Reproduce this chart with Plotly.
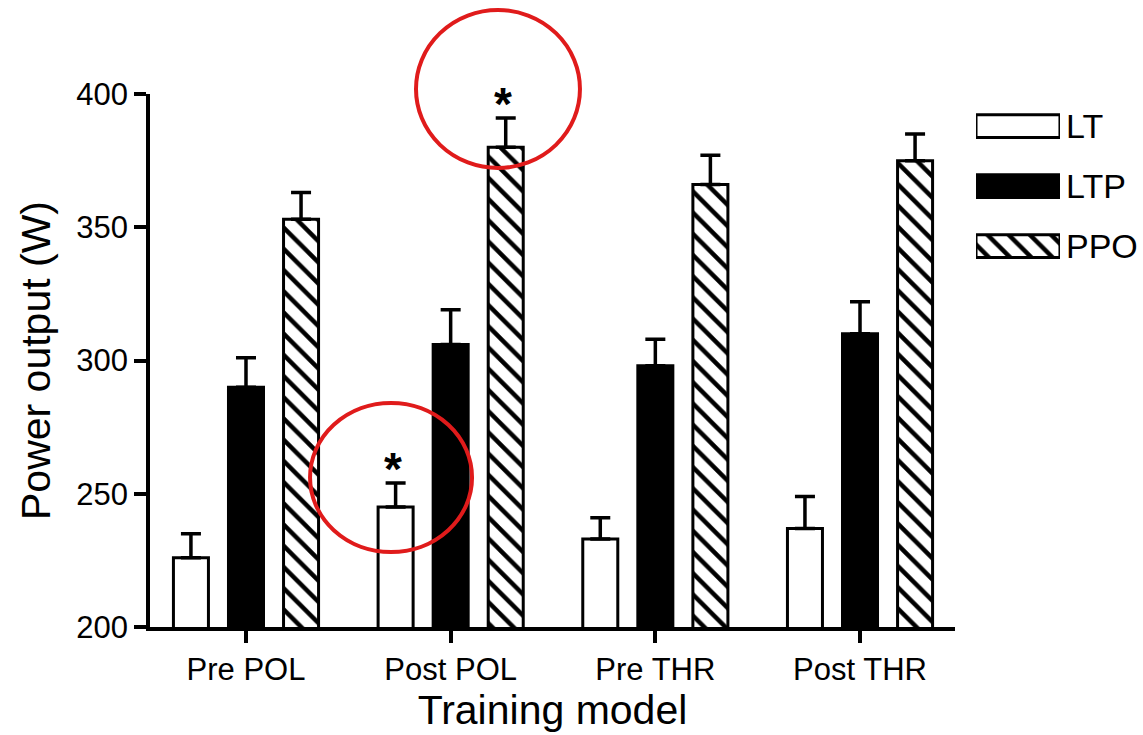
import plotly.graph_objects as go

# Training groups and measured power outputs (W), mean and SD
groups = ["Pre POL", "Post POL", "Pre THR", "Post THR"]
lt = [226, 245, 233, 237]
lt_sd = [9, 9, 8, 12]
ltp = [290, 306, 298, 310]
ltp_sd = [11, 13, 10, 12]
ppo = [353, 380, 366, 375]
ppo_sd = [10, 11, 11, 10]

series_names = ["LT", "LTP", "PPO"]
y_ticks = [200, 250, 300, 350, 400]

FONT = "Liberation Sans, Arial, sans-serif"
BARGAP = 0.193
BARGROUPGAP = 0.364
LINE_W = 3


def err(sd):
    return dict(type="data", array=sd, arrayminus=[0] * len(sd), symmetric=False,
                color="black", thickness=3.5, width=10)


styles = {
    "LT": dict(marker=dict(color="white", line=dict(color="black", width=LINE_W))),
    "LTP": dict(marker=dict(color="black", line=dict(color="black", width=LINE_W))),
    "PPO": dict(marker=dict(color="white", line=dict(color="black", width=LINE_W),
                            pattern=dict(shape="\\", fgcolor="black", bgcolor="white",
                                         size=15, solidity=0.3, fillmode="replace"))),
}

fig = go.Figure()
for name, vals, sd in zip(series_names, [lt, ltp, ppo], [lt_sd, ltp_sd, ppo_sd]):
    fig.add_trace(go.Bar(x=groups, y=vals, name=name, error_y=err(sd),
                         showlegend=False, **styles[name]))

# Legend swatches drawn as bars on their own small axes
legend_rows = [2, 1, 0]
for name, row in zip(series_names, legend_rows):
    fig.add_trace(go.Bar(x=[1], y=[row], base=0, orientation="h", width=0.38,
                         xaxis="x2", yaxis="y2", showlegend=False, hoverinfo="skip",
                         **styles[name]))
    fig.add_annotation(x=0.93, xref="paper", y=row, yref="y2", text=name,
                       xanchor="left", yanchor="middle", showarrow=False,
                       font=dict(family=FONT, size=34, color="black"))

# Significance markers above the error bars
slot = (1 - BARGAP) / 3
stars = [(1, -slot, lt[1] + lt_sd[1]), (1, slot, ppo[1] + ppo_sd[1])]
for gi, off, top in stars:
    fig.add_annotation(x=gi + off, xref="x", xshift=-3, y=top, yref="y", text="<b>*</b>",
                       showarrow=False, yanchor="bottom", yshift=-14,
                       font=dict(family=FONT, size=46, color="black"))

# Red highlight circles
circle_style = dict(type="circle", xref="paper", yref="paper",
                    line=dict(color="#e01b1b", width=4), layer="above")
fig.add_shape(x0=0.2706, x1=0.4374, y0=0.8612, y1=1.1576, **circle_style)
fig.add_shape(x0=0.1628, x1=0.3276, y0=0.1407, y1=0.4203, **circle_style)

fig.update_layout(
    width=1143, height=735,
    margin=dict(l=150, r=10, t=94, b=108),
    paper_bgcolor="white", plot_bgcolor="white",
    barmode="group", bargap=BARGAP, bargroupgap=BARGROUPGAP,
    font=dict(family=FONT, color="black"),
    xaxis=dict(domain=[0, 0.8189], range=[-0.469, 3.464],
               showline=True, linecolor="black", linewidth=3.5,
               ticks="outside", ticklen=12, tickwidth=3.5, tickcolor="black",
               tickfont=dict(size=31), showgrid=False, zeroline=False,
               title=dict(text="Training model", font=dict(size=41), standoff=8)),
    yaxis=dict(range=[200, 400], tickvals=y_ticks,
               showline=True, linecolor="black", linewidth=3.5,
               ticks="outside", ticklen=12, tickwidth=3.5, tickcolor="black",
               tickfont=dict(size=31), showgrid=False, zeroline=False,
               title=dict(text="Power output (W)", font=dict(size=41), standoff=14)),
    xaxis2=dict(domain=[0.8403, 0.9257], range=[0, 1], anchor="y2",
                visible=False, fixedrange=True),
    yaxis2=dict(domain=[0.6585, 0.9962], range=[-0.5, 2.5], anchor="x2",
                visible=False, fixedrange=True),
)

fig.write_html("out.html")
